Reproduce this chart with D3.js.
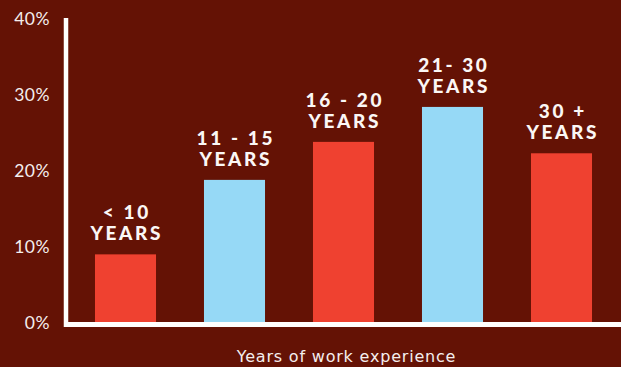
<!DOCTYPE html>
<html><head><meta charset="utf-8">
<script src="https://cdn.jsdelivr.net/npm/d3@7"></script>
<style>html,body{margin:0;padding:0;background:#641205;}svg{display:block;}</style>
</head><body>
<script>
const categories = ["< 10|YEARS", "11 - 15|YEARS", "16 - 20|YEARS", "21- 30|YEARS", "30 +|YEARS"];
const values = [8.9, 18.7, 23.7, 28.3, 22.2];
const barColors = ["#EF4130", "#96D9F6", "#EF4130", "#96D9F6", "#EF4130"];
const tickValues = [0, 10, 20, 30, 40];
const xTitle = "Years of work experience";

const W = 621, H = 367;
const svg = d3.select("body").append("svg").attr("width", W).attr("height", H);
svg.append("rect").attr("width", W).attr("height", H).attr("fill", "#641205");

const x = d3.scaleBand().domain(categories).range([71, 616]).paddingInner(0.44).paddingOuter(0.22);
const y = d3.scaleLinear().domain([0, 40]).range([322, 18]);

svg.selectAll("rect.bar").data(values).enter().append("rect")
  .attr("class", "bar")
  .attr("x", (d, i) => x(categories[i]))
  .attr("width", x.bandwidth())
  .attr("y", d => y(d))
  .attr("height", d => y(0) - y(d))
  .attr("fill", (d, i) => barColors[i]);

// axes lines
svg.append("line").attr("x1", 66).attr("x2", 66).attr("y1", y(40)).attr("y2", 327)
  .attr("stroke", "#fff").attr("stroke-width", 4.5);
svg.append("line").attr("x1", 64).attr("x2", 621).attr("y1", 324.5).attr("y2", 324.5)
  .attr("stroke", "#fff").attr("stroke-width", 5);

// y tick labels
const yAxis = d3.axisLeft(y).tickValues(tickValues).tickFormat(d => d + "%").tickSize(0).tickPadding(0);
const gy = svg.append("g").attr("transform", "translate(50,0)").call(yAxis);
gy.select(".domain").remove();
gy.selectAll("text").attr("fill", "#f4eeee").attr("font-family", "Lato, sans-serif")
  .attr("font-size", 17.5).attr("dy", "0.36em").attr("letter-spacing", 0.5);

// bar labels
values.forEach((v, i) => {
  const lines = categories[i].split("|");
  const cx = x(categories[i]) + x.bandwidth() / 2;
  [0, 1].forEach(k => {
    svg.append("text").attr("text-anchor", "middle")
      .attr("font-family", "Lato, sans-serif").attr("font-weight", 900)
      .attr("font-size", 19).attr("fill", "#fbf7f5").attr("letter-spacing", 2.6)
      .attr("x", cx + 1.3).attr("y", y(v) - (k === 0 ? 35 : 14)).text(lines[k]);
  });
});

svg.append("text").attr("x", 346.5).attr("y", 362).attr("text-anchor", "middle")
  .attr("font-family", "DejaVu Sans, sans-serif").attr("font-size", 16).attr("letter-spacing", 0.8)
  .attr("fill", "#f4eeee").text(xTitle);
</script>
</body></html>
